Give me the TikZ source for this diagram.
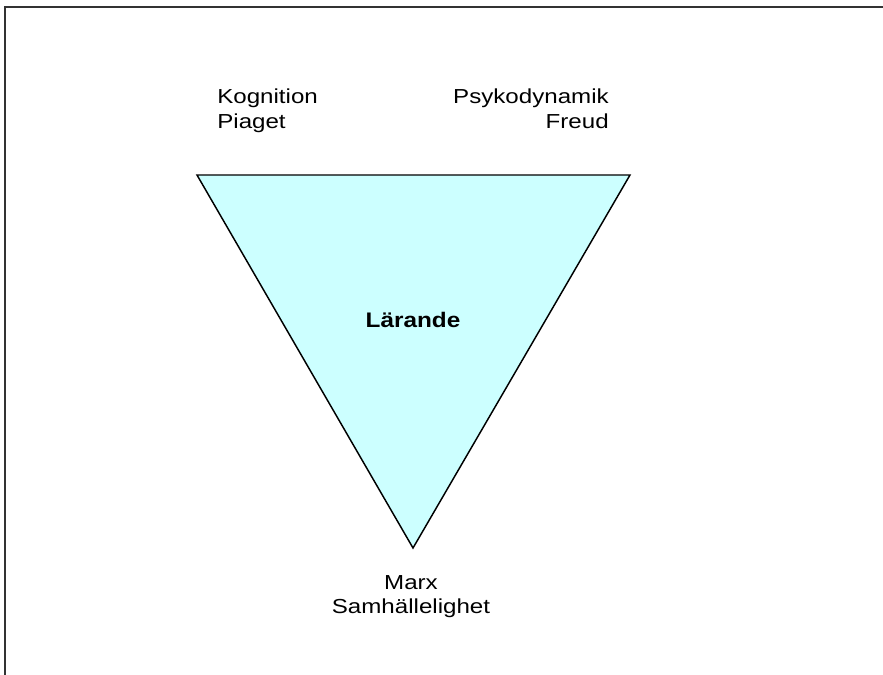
\documentclass[tikz,border=0pt]{standalone}
\usepackage{fontspec}
\setmainfont{Liberation Sans}
\definecolor{lightcyan}{HTML}{CCFFFF}
\tikzset{
  label text/.style={font=\fontsize{15.2}{18.2}\selectfont, inner sep=0pt, xscale=1.19},
}
\begin{document}
\begin{tikzpicture}[x=0.75pt,y=-0.75pt]
        \useasboundingbox (0,0) rectangle (883,675);
        \draw[line width=1.5pt, black!80] (5,675) -- (5,7) -- (883,7);

        \coordinate (tl) at (197,175);
        \coordinate (tr) at (630,175);
        \coordinate (apex) at (413,548);
        \draw[fill=lightcyan, line width=1.1pt, line join=miter] (tl) -- (tr) -- (apex) -- cycle;

        \node[label text, font=\bfseries\fontsize{15.8}{18}\selectfont, xscale=0.97] (center) at (413,320) {L\"arande};
        \node[label text, align=left, anchor=north west] (cog) at (217,89) {Kognition\\Piaget};
        \node[label text, align=right, anchor=north east] (psy) at (609,89) {Psykodynamik\\Freud};
        \node[label text, align=center, anchor=north] (soc) at (411,575) {Marx\\Samh\"allelighet};
    \end{tikzpicture}
\end{document}
